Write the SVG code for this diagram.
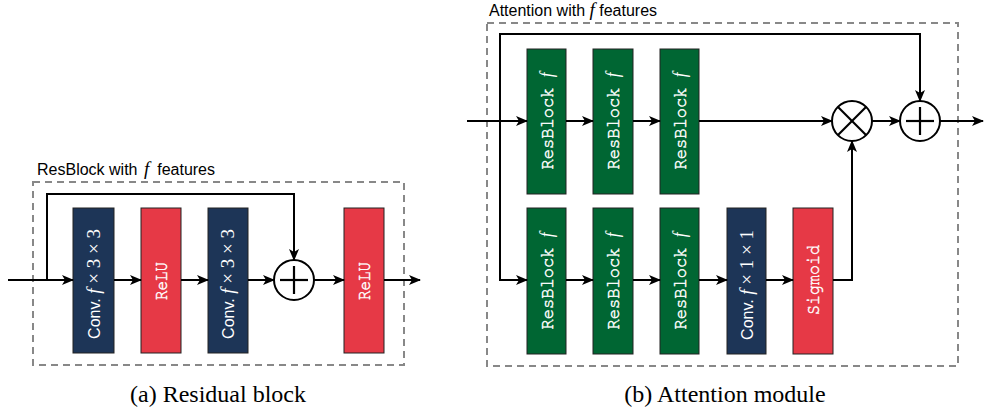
<svg xmlns="http://www.w3.org/2000/svg" width="990" height="414" viewBox="0 0 990 414">
<defs>
<marker id="ah" viewBox="0 0 12 10" refX="11" refY="5" markerWidth="12" markerHeight="10" markerUnits="userSpaceOnUse" orient="auto">
<path d="M0,0 L12,5 L0,10 L3,5 Z" fill="#000"/>
</marker>
</defs>
<style>
.frame{fill:none;stroke:#888;stroke-width:2;stroke-dasharray:7 5}
.navy{fill:#1d3557;stroke:#222;stroke-width:1}
.red{fill:#e63946;stroke:#222;stroke-width:1}
.green{fill:#006633;stroke:#222;stroke-width:1}
.lbl{fill:#fff;font-size:16px;text-anchor:middle}
.mono{font-family:"Nimbus Mono PS","FreeMono","Courier 10 Pitch","Liberation Mono",monospace;font-size:19px;stroke:#fff;stroke-width:0.45}
.sans{font-family:"Liberation Sans",Arial,sans-serif}
.math{font-family:"Liberation Serif","Times New Roman",serif;font-style:italic;font-size:19px;stroke:none}
.mrm{font-family:"Liberation Serif","Times New Roman",serif;font-size:19px}
.title{font-family:"Liberation Sans",Arial,sans-serif;font-size:16px;fill:#000}
.cap{font-family:"Liberation Serif","Times New Roman",serif;font-size:24px;text-anchor:middle;fill:#000}
.conn path,.conn line{fill:none;stroke:#000;stroke-width:2}
.op circle{fill:#fff;stroke:#000;stroke-width:2}
.op line{stroke:#000;stroke-width:2.2}
</style>

<!-- (a) Residual block -->
<g id="frameA">
<rect class="frame" x="33" y="182" width="371" height="183"/>
<text class="title" x="37" y="175">ResBlock with <tspan class="math" dx="2">f</tspan><tspan dx="8">features</tspan></text>
</g>
<g id="convA1"><rect class="navy" x="73" y="208" width="41" height="145"/>
<text class="lbl" transform="translate(94,284) rotate(-90)" dy="0.35em"><tspan class="sans">Conv. </tspan><tspan class="math">f</tspan><tspan class="mrm"> × 3 × 3</tspan></text></g>
<g id="reluA1"><rect class="red" x="141" y="208" width="40" height="145"/>
<text class="lbl mono" transform="translate(161,281) rotate(-90)" dy="0.33em" textLength="38" lengthAdjust="spacingAndGlyphs">ReLU</text></g>
<g id="convA2"><rect class="navy" x="208" y="208" width="40" height="145"/>
<text class="lbl" transform="translate(228,284) rotate(-90)" dy="0.35em"><tspan class="sans">Conv. </tspan><tspan class="math">f</tspan><tspan class="mrm"> × 3 × 3</tspan></text></g>
<g id="addA" class="op"><circle cx="294" cy="280" r="20"/>
<line x1="280" y1="280" x2="308" y2="280"/><line x1="294" y1="266" x2="294" y2="294"/></g>
<g id="reluA2"><rect class="red" x="344" y="208" width="40" height="145"/>
<text class="lbl mono" transform="translate(364,281) rotate(-90)" dy="0.33em" textLength="38" lengthAdjust="spacingAndGlyphs">ReLU</text></g>
<text id="capA" class="cap" x="218" y="402">(a) Residual block</text>

<!-- (b) Attention module -->
<g id="frameB">
<rect class="frame" x="487" y="23" width="471" height="343"/>
<text class="title" x="489" y="16">Attention with <tspan class="math" font-size="18">f</tspan> features</text>
</g>
<g id="rbT1"><rect class="green" x="527" y="49" width="39" height="145"/>
<text class="lbl mono" transform="translate(547,121) rotate(-90)" dy="0.33em" textLength="97" lengthAdjust="spacingAndGlyphs">ResBlock <tspan class="math">f</tspan></text></g>
<g id="rbT2"><rect class="green" x="593" y="49" width="40" height="145"/>
<text class="lbl mono" transform="translate(613,121) rotate(-90)" dy="0.33em" textLength="97" lengthAdjust="spacingAndGlyphs">ResBlock <tspan class="math">f</tspan></text></g>
<g id="rbT3"><rect class="green" x="660" y="49" width="39" height="145"/>
<text class="lbl mono" transform="translate(680,121) rotate(-90)" dy="0.33em" textLength="97" lengthAdjust="spacingAndGlyphs">ResBlock <tspan class="math">f</tspan></text></g>
<g id="rbB1"><rect class="green" x="527" y="208" width="39" height="146"/>
<text class="lbl mono" transform="translate(547,281) rotate(-90)" dy="0.33em" textLength="97" lengthAdjust="spacingAndGlyphs">ResBlock <tspan class="math">f</tspan></text></g>
<g id="rbB2"><rect class="green" x="593" y="208" width="40" height="146"/>
<text class="lbl mono" transform="translate(613,281) rotate(-90)" dy="0.33em" textLength="97" lengthAdjust="spacingAndGlyphs">ResBlock <tspan class="math">f</tspan></text></g>
<g id="rbB3"><rect class="green" x="660" y="208" width="39" height="146"/>
<text class="lbl mono" transform="translate(680,281) rotate(-90)" dy="0.33em" textLength="97" lengthAdjust="spacingAndGlyphs">ResBlock <tspan class="math">f</tspan></text></g>
<g id="convB"><rect class="navy" x="727" y="208" width="39" height="146"/>
<text class="lbl" transform="translate(747,285) rotate(-90)" dy="0.35em"><tspan class="sans">Conv. </tspan><tspan class="math">f</tspan><tspan class="mrm"> × 1 × 1</tspan></text></g>
<g id="sigB"><rect class="red" x="793" y="208" width="40" height="146"/>
<text class="lbl mono" transform="translate(813,280) rotate(-90)" dy="0.33em" textLength="70" lengthAdjust="spacingAndGlyphs">Sigmoid</text></g>
<g id="mulB" class="op"><circle cx="852" cy="121" r="20"/>
<line x1="838" y1="107" x2="866" y2="135"/><line x1="866" y1="107" x2="838" y2="135"/></g>
<g id="addB" class="op"><circle cx="920" cy="121" r="20"/>
<line x1="906" y1="121" x2="934" y2="121"/><line x1="920" y1="107" x2="920" y2="135"/></g>
<text id="capB" class="cap" x="725" y="402">(b) Attention module</text>

<g id="connectors" class="conn">
<line x1="8" y1="280" x2="73" y2="280" marker-end="url(#ah)"/>
<path d="M47,280 V194 H294 V260" marker-end="url(#ah)"/>
<line x1="114" y1="280" x2="141" y2="280" marker-end="url(#ah)"/>
<line x1="181" y1="280" x2="208" y2="280" marker-end="url(#ah)"/>
<line x1="248" y1="280" x2="274" y2="280" marker-end="url(#ah)"/>
<line x1="314" y1="280" x2="344" y2="280" marker-end="url(#ah)"/>
<line x1="384" y1="280" x2="420" y2="280" marker-end="url(#ah)"/>

<line x1="467" y1="121" x2="527" y2="121" marker-end="url(#ah)"/>
<path d="M500,121 V34 H920 V101" marker-end="url(#ah)"/>
<path d="M500,121 V280 H527" marker-end="url(#ah)"/>
<line x1="566" y1="121" x2="593" y2="121" marker-end="url(#ah)"/>
<line x1="633" y1="121" x2="660" y2="121" marker-end="url(#ah)"/>
<line x1="699" y1="121" x2="832" y2="121" marker-end="url(#ah)"/>
<line x1="566" y1="280" x2="593" y2="280" marker-end="url(#ah)"/>
<line x1="633" y1="280" x2="660" y2="280" marker-end="url(#ah)"/>
<line x1="699" y1="280" x2="727" y2="280" marker-end="url(#ah)"/>
<line x1="766" y1="280" x2="793" y2="280" marker-end="url(#ah)"/>
<path d="M833,280 H852 V141" marker-end="url(#ah)"/>
<line x1="872" y1="121" x2="900" y2="121" marker-end="url(#ah)"/>
<line x1="940" y1="121" x2="983" y2="121" marker-end="url(#ah)"/>
</g>
</svg>
